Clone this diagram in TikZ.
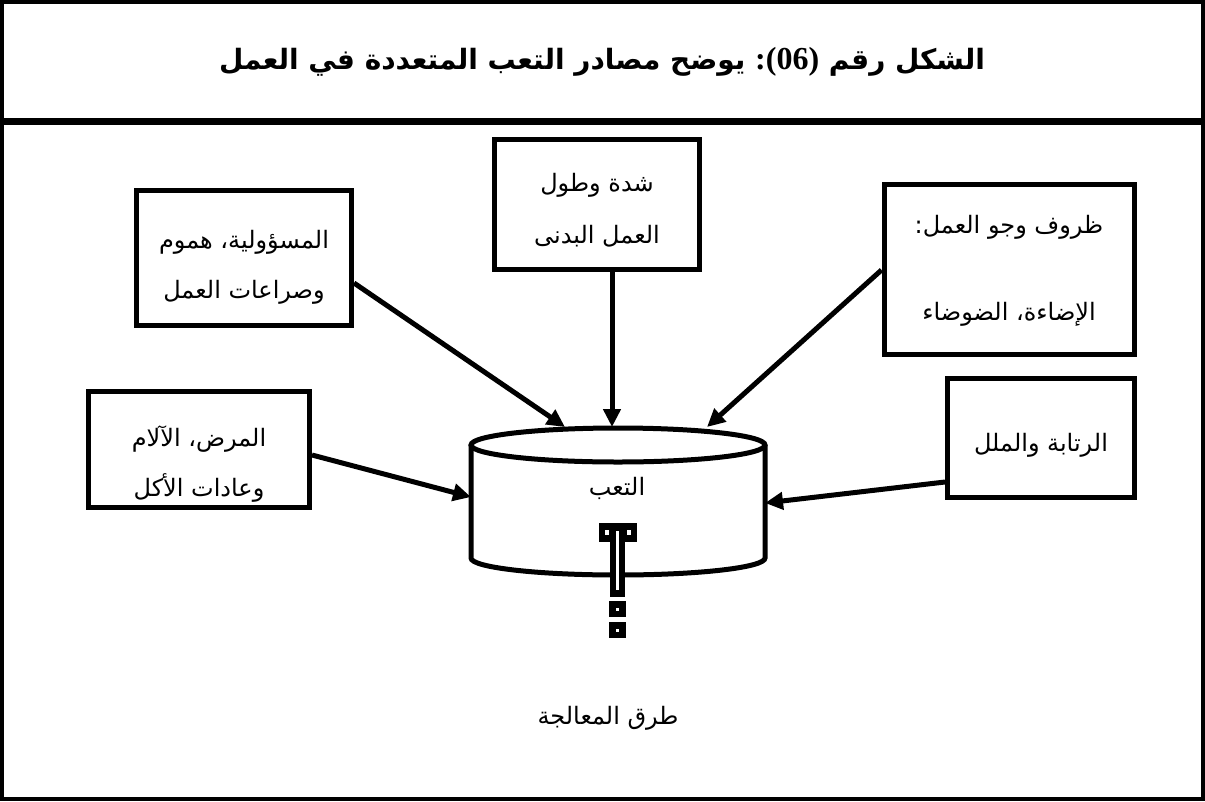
\documentclass[tikz,border=0pt]{standalone}
\usepackage{fontspec}
\usetikzlibrary{arrows.meta,positioning}
\TeXXeTstate=1
\newfontfamily\arabicfont[Script=Arabic]{DejaVu Sans}
\newfontfamily\numfont{Liberation Serif}

\begin{document}
\begin{tikzpicture}[x=1pt,y=-1pt, % pixel units, y going down
    srcbox/.style={draw, line width=5pt, inner sep=0pt},
    txt/.style={align=center, inner sep=0pt, font=\arabicfont\fontsize{24}{28}\selectfont},
    flow/.style={line width=5pt, -{Triangle[length=18pt,width=17pt]}}]
    % Tank parameters
    \def\cx{618} % x of the tank axis
    \def\rx{147} % half width of the tank
    \def\ry{17} % half height of the ellipses
    \def\ytop{445} % y of the top ellipse
    \def\ybot{558} % y of the bottom arc

    \useasboundingbox (0,0) rectangle (1205,801);

    % Frame and title band
    \draw[line width=4pt] (2,2) rectangle (1203,799);
    \draw[line width=7pt] (2,121) -- (1203,121);
    \node[font=\arabicfont\bfseries\fontsize{28}{34}\selectfont] (title) at (602,62)
        {\beginR الشكل رقم \hbox{\numfont\bfseries\fontsize{32}{34}\selectfont(06)}\hbox{\numfont\bfseries\fontsize{32}{34}\selectfont:} يوضح مصادر  التعب المتعددة في العمل\endR};

    % Sources
    \node[srcbox, minimum width=215pt, minimum height=135pt,
        label={[txt, yshift=-9pt]center:{\beginR المسؤولية، هموم\endR\\[22pt]\beginR وصراعات العمل\endR}}] (resp) at (244,258) {};
    \node[srcbox, minimum width=205pt, minimum height=130pt,
        label={[txt, yshift=-6pt]center:{\beginR شدة وطول\endR\\[24pt]\beginR العمل البدنى\endR}}] (phys) at (597,204) {};
    \node[srcbox, minimum width=250pt, minimum height=170pt,
        label={[txt, yshift=-2pt]center:{\beginR ظروف وجو العمل:\endR\\[59pt]\beginR الإضاءة، الضوضاء\endR}}] (cond) at (1009,269) {};
    \node[srcbox, minimum width=221pt, minimum height=116pt,
        label={[txt, yshift=-15pt]center:{\beginR المرض، الآلام\endR\\[20pt]\beginR وعادات الأكل\endR}}] (ill) at (199,449) {};
    \node[srcbox, minimum width=187pt, minimum height=119pt,
        label={[txt, yshift=-7pt]center:{\beginR الرتابة والملل\endR}}] (mono) at (1041,438) {};

    % The tank
    \filldraw[fill=white, line width=5pt] (\cx-\rx,\ytop) -- (\cx-\rx,\ybot)
        arc[start angle=180, end angle=360, x radius=\rx pt, y radius=\ry pt] -- (\cx+\rx,\ytop);
    \draw[line width=5pt] (\cx,\ytop) ellipse [x radius=\rx pt, y radius=\ry pt];
    \node[txt] (tired) at (617,488) {التعب};

    % Points where the arrows meet the tank
    \coordinate (t1) at (565,427);
    \coordinate (t2) at (612,427);
    \coordinate (t3) at (707,427);
    \coordinate (t4) at (\cx-\rx,497);
    \coordinate (t5) at (\cx+\rx,503);

    % Arrows into the tank
    \draw[flow] (resp.east |- 0,283) -- (t1);
    \draw[flow] (phys.south -| t2) -- (t2);
    \draw[flow] (cond.west |- 0,270) -- (t3);
    \draw[flow] (ill.east |- 0,455) -- (t4);
    \draw[flow] (mono.west |- 0,482) -- (t5);

    % The tap
    \fill (599,523) rectangle (637,542); % head
    \fill (610,523) rectangle (625,597); % stem
    \fill[white] (605,530) rectangle (609,535);
    \fill[white] (627,530) rectangle (631,535);
    \fill[white] (616,531) rectangle (619,590); % slit
    \foreach \y in {601,622}{
        \fill (609,\y) rectangle (626,\y+16);
        \fill[white] (616,\y+6.5) rectangle (619,\y+9.5);
    }

    % Outlet label
    \node[txt] (remedy) at (608,718) {\beginR طرق المعالجة\endR};
\end{tikzpicture}
\end{document}
